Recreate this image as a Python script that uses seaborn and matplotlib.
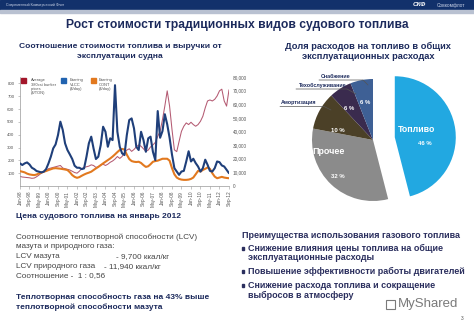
import numpy as np
import pandas as pd
import matplotlib
matplotlib.use('Agg')
import matplotlib.pyplot as plt
import seaborn as sns
from matplotlib.patches import Rectangle
from matplotlib.lines import Line2D

sns.set_theme(style='white')
plt.rcParams['font.family'] = ['Liberation Sans', 'DejaVu Sans']

W, H = 474, 328

# ---------------- data ----------------
months = pd.date_range('1998-01-01', '2012-09-01', freq='2MS')
tick_dates = pd.date_range('1998-01-01', '2012-09-01', freq='8MS')

bunker = [75, 70, 68, 66, 64, 60, 62, 72, 85, 100, 110, 120,
          135, 140, 145, 150, 155, 160, 140, 135, 130, 125, 115, 105,
          100, 115, 135, 145, 150, 155, 165, 160, 145, 150, 165, 170,
          160, 170, 185, 195, 210, 230, 215, 230, 260, 280, 290, 270,
          285, 305, 320, 310, 290, 270, 280, 305, 320, 340,
          387, 426, 518, 623, 742, 623, 440, 282, 268, 347, 426, 466,
          492, 479, 497, 479, 466, 479, 505, 544, 610, 663, 671, 663,
          676, 702, 742, 755, 663, 623, 750]

vlcc = [16600, 15400, 16600, 17300, 15800, 13400, 12400, 11000, 10500, 10000, 10500, 12400,
        16600, 21500, 27600, 30500, 37400, 47200, 41100, 31300, 26400, 23200, 19800, 14900,
        13400, 13400, 12400, 12900, 21500, 31300, 36200, 27600, 19800, 21500, 30000, 43500,
        39800, 28800, 35000, 33700, 74000, 39800, 28800, 24000, 22700, 37400, 48400, 49600,
        42300, 28800, 26400, 39800, 33700, 25100, 35000, 36200, 25100, 19000,
        55000, 35400, 40300, 52700, 45300, 35400, 23000, 13100, 10600, 8200, 10600, 11100,
        18000, 25500, 18000, 20000, 16800, 14300, 10600, 13100, 19300, 15600, 11100, 10600,
        13100, 18000, 17500, 15100, 14300, 11900, 9400]

cont = [10900, 10500, 10000, 9100, 8500, 8200, 8000, 8400, 9200, 9800, 10500, 11000,
        11700, 12300, 12900, 13100, 12900, 12700, 12400, 12100, 11700, 10100, 8000, 6700,
        6000, 6500, 7500, 8400, 9200, 9800, 10500, 11700, 12900, 14000, 15300, 16600,
        17800, 19000, 20200, 21600, 23200, 24900, 26400, 27200, 26800, 23000, 19800, 18300,
        17800, 17600, 17800, 16900, 15300, 14000, 14500, 16000, 17800, 18300,
        18600, 19300, 20000, 20000, 20000, 18600, 13100, 8600, 6200, 5200, 4700, 4500,
        4500, 4700, 5200, 6200, 8600, 11100, 10600, 11800, 12600, 13600, 12600, 9400,
        6900, 5700, 6200, 6700, 6200, 5900, 5700]

left_ticks = [100, 200, 300, 400, 500, 600, 700, 800]
right_ticks = [0, 10000, 20000, 30000, 40000, 50000, 60000, 70000, 80000]

legend_labels = ['Average\n380cst bunker\nprices\n($/TON)', 'Earning\nVLCC\n($/day)', 'Earning\nCONT\n($/day)']

cost_labels = ['Топливо', 'Прочее', 'Амортизация', 'Техобслуживание', 'Снабжение']
cost_shares = [46, 32, 10, 6, 6]

NAVY = '#1c2a5c'
GREY = '#454545'

fig = plt.figure(figsize=(W / 100, H / 100), dpi=100)
fig.patch.set_facecolor('white')


def fxy(px, py):
    return px / W, 1 - py / H


def ptext(px, py, s, **kw):
    x, y = fxy(px, py)
    return fig.text(x, y, s, **kw)


def axes_px(l, t, r, b):
    return fig.add_axes([l / W, 1 - b / H, (r - l) / W, (b - t) / H])


def pline(xs, ys, **kw):
    fig.add_artist(Line2D([x / W for x in xs], [1 - y / H for y in ys],
                          transform=fig.transFigure, **kw))


# ---------------- header ----------------
fig.add_artist(Rectangle((0, 1 - 10 / H), 1, 10 / H, transform=fig.transFigure,
                         color='#12316b', zorder=0))
fig.add_artist(Rectangle((0, 1 - 13 / H), 1, 3 / H, transform=fig.transFigure,
                         color='#b9c1d1', zorder=0))
ptext(6, 5, 'Современный Коммерческий Флот', fontsize=2.6, color='#c9d2e6', va='center')
ptext(413, 5, 'СКФ', fontsize=4.6, color='white', va='center', fontweight='bold', style='italic')
ptext(437, 5.3, 'Совкомфлот', fontsize=3.4, color='#c9d2e6', va='center')

ptext(237, 25, 'Рост стоимости традиционных видов судового топлива', fontsize=8.7,
      fontweight='bold', color=NAVY, ha='center', va='center')

ptext(120, 46, 'Соотношение стоимости топлива и выручки от', fontsize=6.1,
      fontweight='bold', color=NAVY, ha='center', va='center')
ptext(120, 56, 'эксплуатации судна', fontsize=6.1,
      fontweight='bold', color=NAVY, ha='center', va='center')

ptext(368, 46, 'Доля расходов на топливо в общих', fontsize=6.7,
      fontweight='bold', color=NAVY, ha='center', va='center')
ptext(368, 56.5, 'эксплуатационных расходах', fontsize=6.7,
      fontweight='bold', color=NAVY, ha='center', va='center')

# ---------------- line chart ----------------
df = pd.DataFrame({'date': months, 'bunker': bunker, 'vlcc': vlcc, 'cont': cont})
ax = axes_px(20, 77, 229, 186)
sns.lineplot(data=df, x='date', y='bunker', ax=ax, color='#b45a72', lw=0.75)
ax2 = ax.twinx()
sns.lineplot(data=df, x='date', y='cont', ax=ax2, color='#e2791f', lw=1.5)
sns.lineplot(data=df, x='date', y='vlcc', ax=ax2, color='#1f3f7a', lw=1.5)

ax.set_xlim(months[0], months[-1])
ax.set_ylim(0, 850)
ax2.set_ylim(0, 80000)
ax.set_yticks(left_ticks)
ax.set_yticklabels([str(v) for v in left_ticks], fontsize=3.2, color='#555555')
ax2.set_yticks(right_ticks)
ax2.set_yticklabels([f'{v:,}' for v in right_ticks], fontsize=3.4, color='#555555')
ax.set_xticks(tick_dates)
ax.set_xticklabels([d.strftime('%b-%y') for d in tick_dates], rotation=90,
                   fontsize=3.4, color='#555555')
for a in (ax, ax2):
    a.set_xlabel('')
    a.set_ylabel('')
    a.set_facecolor('none')
    for s in a.spines.values():
        s.set_visible(False)
ax.spines['left'].set_visible(True)
ax.spines['bottom'].set_visible(True)
ax.spines['left'].set_color('#999999')
ax.spines['bottom'].set_color('#999999')
ax.spines['left'].set_linewidth(0.5)
ax.spines['bottom'].set_linewidth(0.5)
ax.tick_params(axis='x', length=2, width=0.4, color='#999999', pad=1.5, bottom=True)
ax.tick_params(axis='y', length=1.5, width=0.4, color='#999999', pad=2.5, left=True)
ax2.tick_params(axis='y', length=0, pad=2.5)
ax.grid(False)
ax2.grid(False)

# legend
leg_colors = ['#a3162a', '#2163b0', '#e2791f']
leg_sq_x = [21, 61, 91]
leg_txt_x = [31, 70, 99]
for c, sx, tx, lab in zip(leg_colors, leg_sq_x, leg_txt_x, legend_labels):
    x0, y0 = fxy(sx, 83)
    fig.add_artist(Rectangle((x0, y0), 5 / W, 5 / H, transform=fig.transFigure, color=c))
    ptext(tx, 78.5, lab, fontsize=2.9, color='#555555', va='top', linespacing=1.1)

# ---------------- pie ----------------
CX, CY, R = 373, 140, 61
pax = axes_px(290, 70, 470, 210)
pie_colors = ['#22a8e1', '#8b8b8b', '#4b4027', '#3a2b4e', '#3e6095']
pax.pie(cost_shares, colors=pie_colors, startangle=90, counterclock=False,
        explode=[0.36, 0, 0, 0, 0], radius=1, wedgeprops=dict(linewidth=0))
pax.set_xlim((290 - CX) / R, (470 - CX) / R)
pax.set_ylim(-(210 - CY) / R, (CY - 70) / R)

ptext(417, 130, cost_labels[0], fontsize=6.3, fontweight='bold', color='white', ha='center', va='center')
ptext(425, 143, f'{cost_shares[0]} %', fontsize=4.3, fontweight='bold', color='white', ha='center', va='center')
ptext(329, 151, cost_labels[1], fontsize=6.4, fontweight='bold', color='white', ha='center', va='center')
ptext(338, 177, f'{cost_shares[1]} %', fontsize=4.3, fontweight='bold', color='white', ha='center', va='center')
ptext(338, 130, f'{cost_shares[2]} %', fontsize=4.3, fontweight='bold', color='white', ha='center', va='center')
ptext(349, 109, f'{cost_shares[3]} %', fontsize=4.3, fontweight='bold', color='white', ha='center', va='center')
ptext(365, 103, f'{cost_shares[4]} %', fontsize=4.3, fontweight='bold', color='white', ha='center', va='center')

ptext(336, 77, cost_labels[4], fontsize=3.9, fontweight='bold', color=NAVY, ha='center', va='center')
pline([319, 363, 368], [80, 80, 85], color='#555555', lw=0.5)
ptext(323, 85.5, cost_labels[3], fontsize=3.9, fontweight='bold', color=NAVY, ha='center', va='center')
pline([296, 347, 356], [89, 89, 94], color='#555555', lw=0.5)
ptext(299, 103, cost_labels[2], fontsize=3.9, fontweight='bold', color=NAVY, ha='center', va='center')
pline([280, 324, 331], [106.5, 106.5, 110], color='#555555', lw=0.5)

# ---------------- lower left text ----------------
ptext(16, 216, 'Цена судового топлива на январь 2012', fontsize=6.0, fontweight='bold',
      color=NAVY, va='center')
RS = 5.9
ptext(16, 237.5, 'Соотношение теплотворной способности (LCV)', fontsize=RS, color=GREY, va='center')
ptext(16, 246.8, 'мазута и природного газа:', fontsize=RS, color=GREY, va='center')
ptext(16, 256.5, 'LCV мазута', fontsize=RS, color=GREY, va='center')
ptext(116, 256.5, '- 9,700 ккал/кг', fontsize=RS, color=GREY, va='center')
ptext(16, 266.3, 'LCV природного газа', fontsize=RS, color=GREY, va='center')
ptext(104, 266.3, '- 11,940 ккал/кг', fontsize=RS, color=GREY, va='center')
ptext(16, 276, 'Соотношение -  1 : 0,56', fontsize=RS, color=GREY, va='center')
ptext(16, 297.5, 'Теплотворная способность газа на 43% выше', fontsize=6.05, fontweight='bold',
      color=NAVY, va='center')
ptext(16, 307.5, 'теплотворной способности мазута', fontsize=6.05, fontweight='bold',
      color=NAVY, va='center')

# ---------------- lower right text ----------------
BR = '#2b2f5e'
FS = 6.5
ptext(242, 235.5, 'Преимущества использования газового топлива', fontsize=FS,
      fontweight='bold', color=BR, va='center')
bullets = [(248.5, 'Снижение влияния цены топлива на общие'),
           (258, 'эксплуатационные расходы'),
           (271.5, 'Повышение эффективности работы двигателей'),
           (285.5, 'Снижение расхода топлива и сокращение'),
           (295, 'выбросов в атмосферу')]
for yy, s in bullets:
    ptext(248, yy, s, fontsize=FS, fontweight='bold', color=BR, va='center')
for yy in (248.5, 271.5, 285.5):
    x0, y0 = fxy(241.5, yy + 1.3)
    fig.add_artist(Rectangle((x0, y0), 2.6 / W, 2.6 / H, transform=fig.transFigure, color=BR))

# watermark
ptext(398, 304, 'MyShared', fontsize=9.5, color='#7a7a7a', va='center')
x0, y0 = fxy(386, 309)
fig.add_artist(Rectangle((x0, y0), 9 / W, 9 / H, transform=fig.transFigure,
                         facecolor='none', edgecolor='#7a7a7a', lw=0.8))
ptext(462, 318, '3', fontsize=3.5, color='#555555', va='center', ha='center')

fig.savefig('out.png', dpi=100)
